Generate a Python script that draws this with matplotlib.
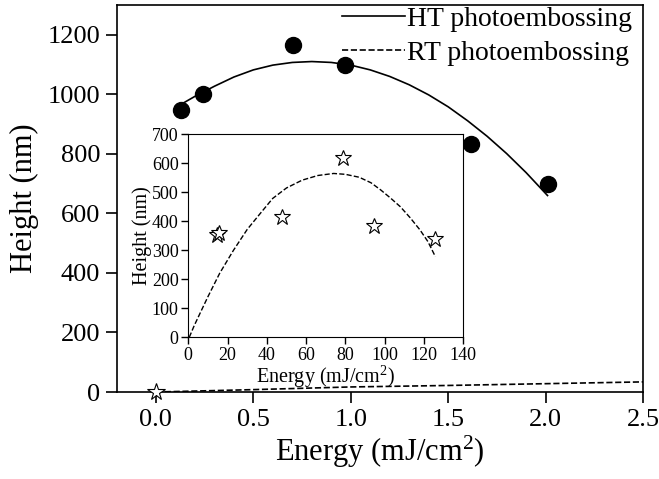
import numpy as np
import matplotlib
matplotlib.use("Agg")
import matplotlib.pyplot as plt

plt.rcParams['font.family'] = ['Liberation Serif', 'DejaVu Serif']
plt.rcParams['mathtext.fontset'] = 'custom'
plt.rcParams['mathtext.rm'] = 'Liberation Serif'
plt.rcParams['mathtext.it'] = 'Liberation Serif:italic'

# Main plot: HT photoembossing data (mJ/cm2, nm)
ht_energy = [0.128, 0.241, 0.702, 0.968, 1.619, 2.013]
ht_height = [946, 1002, 1166, 1100, 832, 698]
# HT fit curve
ht_fit_x = [0.12, 0.2, 0.3, 0.4, 0.5, 0.6, 0.7, 0.8, 0.9, 1.0, 1.1, 1.2, 1.3,
            1.4, 1.5, 1.6, 1.7, 1.8, 1.9, 2.01]
ht_fit_y = [963, 993, 1027, 1058, 1082, 1098, 1107, 1110, 1107, 1098, 1082, 1060,
            1032, 998, 958, 911, 859, 801, 737, 660]
# RT point and fit in main plot
rt_main_x = [0.0]
rt_main_y = [0]
rt_main_fit_x = [0.0, 0.5, 1.0, 1.5, 2.0, 2.5]
rt_main_fit_y = [0, 8, 17, 22, 28, 34]

# Inset: RT photoembossing data
rt_energy = [14.5, 15.8, 47.6, 78.8, 94.6, 125.8]
rt_height = [353, 361, 414, 619, 384, 338]
rt_fit_x = [0.5, 3, 6, 10, 16, 23, 30, 37, 43, 50, 58, 66, 74, 80, 87, 93, 98,
            103, 108, 113, 118, 122, 125.8]
rt_fit_y = [0, 40, 83, 140, 221, 300, 372, 430, 479, 515, 542, 558, 565, 562, 552,
            533, 508, 480, 450, 412, 370, 330, 278]

fig = plt.figure(figsize=(6.59, 4.79), dpi=100)
ax = fig.add_axes([0.1775, 0.1816, 0.7982, 0.808])

ax.plot(ht_fit_x, ht_fit_y, '-', color='black', lw=1.2, label='HT photoembossing')
ax.plot(rt_main_fit_x, rt_main_fit_y, '--', color='black', lw=1.2, label='RT photoembossing')
ax.plot(ht_energy, ht_height, 'o', color='black', ms=11.5, zorder=5)
ax.plot(rt_main_x, rt_main_y, '*', mfc='white', mec='black', mew=0.8, ms=13, zorder=5, clip_on=False)

ax.set_xlim(-0.2, 2.5)
ax.set_ylim(0, 1300)
ax.set_xticks([0.0, 0.5, 1.0, 1.5, 2.0, 2.5])
ax.set_xticklabels(['0.0', '0.5', '1.0', '1.5', '2.0', '2.5'])
ax.set_yticks([0, 200, 400, 600, 800, 1000, 1200])
ax.tick_params(axis='both', direction='out', length=8, width=1.2, labelsize=19, pad=4)
for s in ax.spines.values():
    s.set_linewidth(1.2)
ax.set_xlabel('Energy (mJ/cm$^2$)', fontsize=22, labelpad=2)
ax.set_ylabel('Height (nm)', fontsize=22, labelpad=6)

leg = ax.legend(loc='upper right', frameon=False, fontsize=20, handlelength=2.3,
                handletextpad=0.05, borderaxespad=0.0, labelspacing=0.3,
                bbox_to_anchor=(1.0, 1.025))

ins = fig.add_axes([0.2857, 0.2958, 0.4173, 0.4238])
ins.plot(rt_fit_x, rt_fit_y, '--', color='black', lw=1.0)
ins.plot(rt_energy, rt_height, '*', mfc='white', mec='black', mew=0.8, ms=12)
ins.set_xlim(0, 140)
ins.set_ylim(0, 700)
ins.set_xticks(np.arange(0, 141, 20))
ins.set_yticks(np.arange(0, 701, 100))
ins.tick_params(axis='both', direction='out', length=5, width=1.0, labelsize=13, pad=2)
ins.set_xlabel('Energy (mJ/cm$^2$)', fontsize=14.5, labelpad=0)
ins.set_ylabel('Height (nm)', fontsize=14.5, labelpad=0)

fig.savefig('out.png', dpi=100)
